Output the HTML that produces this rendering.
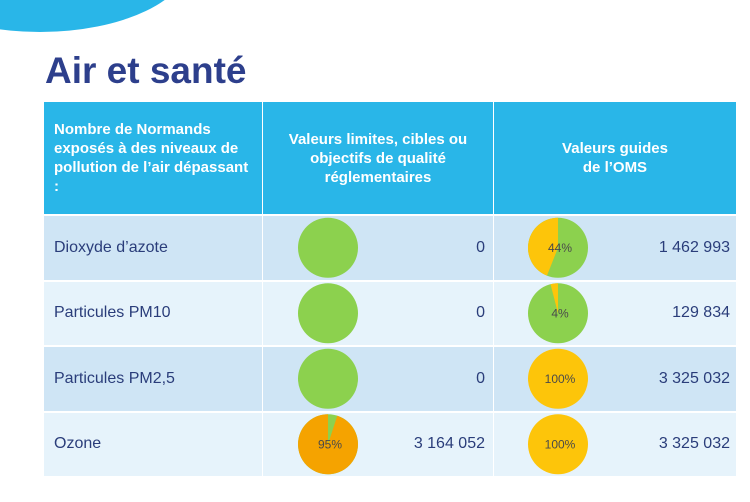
<!DOCTYPE html>
<html><head><meta charset="utf-8"><style>
body{margin:0;width:750px;height:502px;background:#fff;position:relative;overflow:hidden;font-family:"Liberation Sans",sans-serif;}
.abs{position:absolute}
.hd{background:#29b6e8;color:#fff;font-weight:bold;font-size:15px;line-height:19px;box-sizing:border-box;display:flex;align-items:center}
.row{color:#2a3d7a;font-size:16px;box-sizing:border-box;display:flex;align-items:center}
</style></head><body>
<svg class="abs" style="left:0;top:0" width="750" height="502">
<ellipse cx="40" cy="-40" rx="150" ry="72" fill="#29b6e8"/>
</svg>
<div class="abs" style="left:45px;top:50px;font-size:37px;font-weight:bold;color:#2d3f8c">Air et santé</div>
<div id="tbl"></div>
<svg id="pies" class="abs" style="left:0;top:0" width="750" height="502"></svg>
<script>
const pollutants=["Dioxyde d’azote","Particules PM10","Particules PM2,5","Ozone"];
const regPct=[0,0,0,95];
const regVal=["0","0","0","3 164 052"];
const omsPct=[44,4,100,100];
const omsVal=["1 462 993","129 834","3 325 032","3 325 032"];
const cols=[44,263,494,736], hTop=102, hBot=214, rowH=65.5;
const tbl=document.getElementById('tbl');
function div(cls,l,t,w,h,html,name,st){const d=document.createElement('div');d.className='abs '+cls;
d.style.cssText=`left:${l}px;top:${t}px;width:${w}px;height:${h}px;`+(st||'');d.innerHTML=html;


tbl.appendChild(d);return d;}
div('hd',cols[0],hTop,cols[1]-cols[0]-1,hBot-hTop,'Nombre de Normands exposés à des niveaux de pollution de l’air dépassant :','header-pollutant','padding:0 8px 0 10px;');
div('hd',cols[1],hTop,cols[2]-cols[1]-1,hBot-hTop,'Valeurs limites, cibles ou objectifs de qualité réglementaires','header-regulatory','justify-content:center;text-align:center;padding:0 6px;');
div('hd',cols[2],hTop,cols[3]-cols[2],hBot-hTop,'Valeurs guides<br>de l’OMS','header-oms','justify-content:center;text-align:center;');
const svg=document.getElementById('pies');const NS='http://www.w3.org/2000/svg';
function pie(cx,cy,r,pct,fg,bg,dir,label,name){
 const g=document.createElementNS(NS,'g');
 
 
 const c=document.createElementNS(NS,'circle');c.setAttribute('cx',cx);c.setAttribute('cy',cy);c.setAttribute('r',r);
 c.setAttribute('fill',pct>=100?fg:bg);g.appendChild(c);
 if(pct>0&&pct<100){const a=pct/100*2*Math.PI*dir;const x=cx+r*Math.sin(a),y=cy-r*Math.cos(a);
  const large=pct>50?1:0,sweep=dir>0?1:0;
  const p=document.createElementNS(NS,'path');p.setAttribute('d',`M${cx},${cy}L${cx},${cy-r}A${r},${r} 0 ${large} ${sweep} ${x},${y}Z`);
  p.setAttribute('fill',fg);g.appendChild(p);}
 if(label){const t=document.createElementNS(NS,'text');t.setAttribute('x',cx+2);t.setAttribute('y',cy+4);t.setAttribute('text-anchor','middle');
  t.setAttribute('font-size','12');t.setAttribute('fill','#4a4a4a');t.setAttribute('font-family','Liberation Sans, sans-serif');t.textContent=label;g.appendChild(t);}
 svg.appendChild(g);}
pollutants.forEach((p,i)=>{
 const top=hBot+2+i*rowH, h=rowH-2, bg=i%2?'#e6f3fb':'#cfe5f5';
 div('row',cols[0],top,cols[1]-cols[0]-1,h,p,'row-label-'+i,'background:'+bg+';padding-left:10px;');
 div('row',cols[1],top,cols[2]-cols[1]-1,h,regVal[i],'reg-value-'+i,'background:'+bg+';justify-content:flex-end;padding-right:8px;');
 div('row',cols[2],top,cols[3]-cols[2],h,omsVal[i],'oms-value-'+i,'background:'+bg+';justify-content:flex-end;padding-right:6px;');
 const cy=top+h/2;
 pie(328,cy,30,regPct[i],'#f5a300','#8cd14e',-1,regPct[i]>0?regPct[i]+'%':'','reg-pie-'+i);
 pie(558,cy,30,omsPct[i],'#fdc50a','#8cd14e',-1,omsPct[i]+'%','oms-pie-'+i);
});
</script>
</body></html>
